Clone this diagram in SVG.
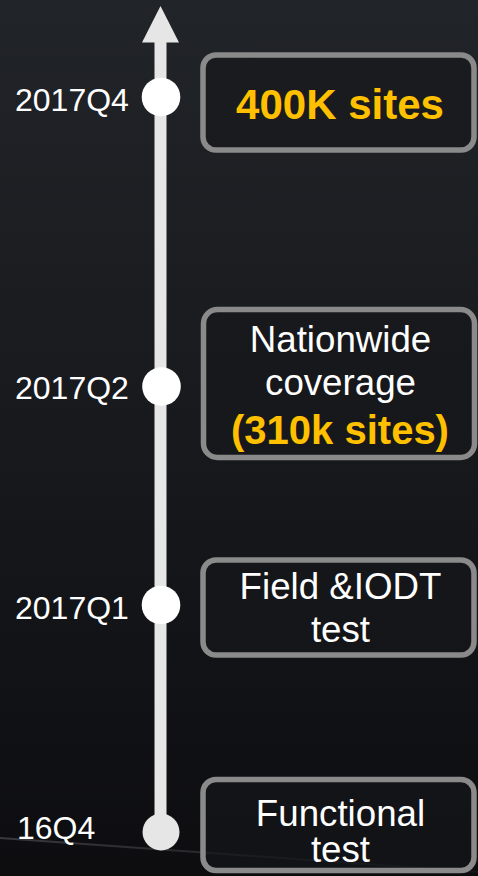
<svg xmlns="http://www.w3.org/2000/svg" width="478" height="876" viewBox="0 0 478 876">
  <defs>
    <linearGradient id="bg" x1="0" y1="0" x2="0" y2="1">
      <stop offset="0" stop-color="#212428"/>
      <stop offset="0.5" stop-color="#17191d"/>
      <stop offset="1" stop-color="#0d0d10"/>
    </linearGradient>
    <linearGradient id="streak" x1="0" y1="0" x2="1" y2="0">
      <stop offset="0" stop-color="#ffffff" stop-opacity="0.18"/>
      <stop offset="0.5" stop-color="#ffffff" stop-opacity="0.1"/>
      <stop offset="1" stop-color="#ffffff" stop-opacity="0.03"/>
    </linearGradient>
    <style>
      .box { fill: #15171a; fill-opacity: 0.6; stroke: #8a8a8a; stroke-width: 5.5; }
      .lbl { font-family: "Liberation Sans", Arial, sans-serif; font-size: 32px; fill: #ffffff; }
      .txt { font-family: "Liberation Sans", Arial, sans-serif; font-size: 36.7px; fill: #ffffff; text-anchor: middle; }
      .hl { font-family: "Liberation Sans", Arial, sans-serif; font-weight: bold; fill: #ffc000; text-anchor: middle; }
      .dot { fill: #ffffff; }
    </style>
  </defs>
  <rect x="0" y="0" width="478" height="876" fill="url(#bg)"/>
  <path d="M0 838 C 120 846, 260 858, 478 872" fill="none" stroke="url(#streak)" stroke-width="2"/>

  <g id="connectors">
    <rect x="154.5" y="40" width="12" height="792" fill="#e6e6e6"/>
    <polygon points="160.5,6 179,42.5 142,42.5" fill="#e6e6e6"/>
  </g>

  <g id="n-2017q4">
    <circle class="dot" cx="161" cy="97" r="19.3"/>
    <text class="lbl" x="15" y="111">2017Q4</text>
    <rect class="box" x="203" y="55" width="271" height="95" rx="13"/>
    <text class="hl" x="340" y="119" font-size="42">400K sites</text>
  </g>

  <g id="n-2017q2">
    <circle class="dot" cx="161.5" cy="386.5" r="19.3"/>
    <text class="lbl" x="15" y="399">2017Q2</text>
    <rect class="box" x="203.5" y="309.5" width="271" height="148" rx="14"/>
    <text class="txt" x="340.5" y="352">Nationwide</text>
    <text class="txt" x="340.5" y="395">coverage</text>
    <text class="hl" x="340" y="444" font-size="40">(310k sites)</text>
  </g>

  <g id="n-2017q1">
    <circle class="dot" cx="161" cy="605" r="19.3"/>
    <text class="lbl" x="15" y="619">2017Q1</text>
    <rect class="box" x="203" y="560" width="271" height="95" rx="13"/>
    <text class="txt" x="340.5" y="599">Field &amp;IODT</text>
    <text class="txt" x="340.5" y="642">test</text>
  </g>

  <g id="n-16q4">
    <circle cx="161" cy="832" r="18.5" fill="#e6e6e6"/>
    <text class="lbl" x="17" y="839">16Q4</text>
    <rect class="box" x="203" y="779.5" width="271" height="91" rx="13"/>
    <text class="txt" x="340.5" y="826">Functional</text>
    <text class="txt" x="340.5" y="862">test</text>
  </g>
</svg>
